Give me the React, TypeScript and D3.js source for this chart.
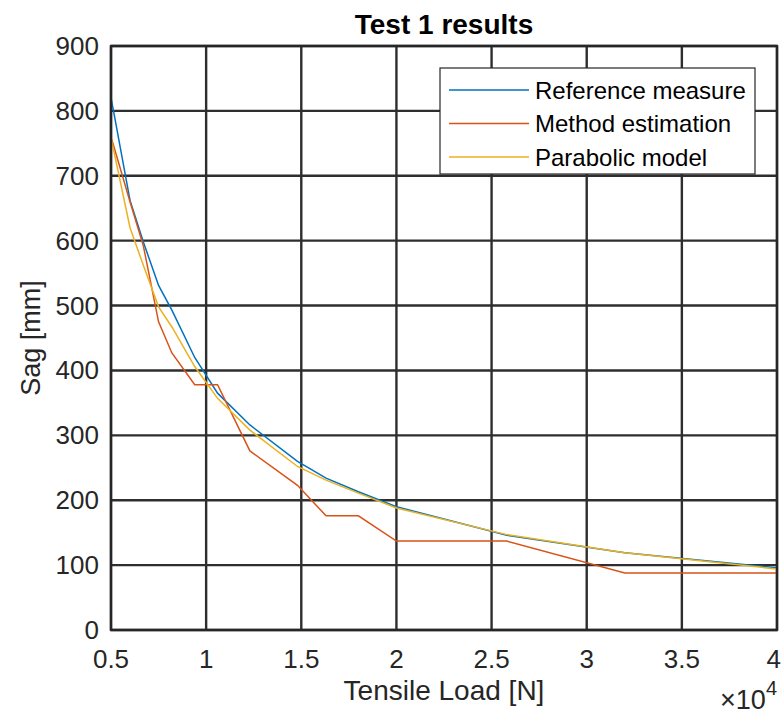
import React, { useEffect, useRef } from 'react';
import * as d3 from 'd3';

// tensile load in units of 1e4 N
const loads = [0.5, 0.51, 0.6, 0.67, 0.75, 0.82, 0.94, 1.06, 1.23, 1.48, 1.63, 1.8, 2.0, 2.58, 3.2, 4.0];
const referenceMeasure = [820, 805, 662, 598, 531, 493, 420, 365, 316, 260, 234, 213, 190, 146, 119, 96];
const methodEstimation = [758, 750, 660, 592, 475, 427, 378, 378, 276, 223, 176, 176, 137, 137, 88, 88];
const parabolicModel = [758, 745, 620, 562, 498, 467, 406, 357, 308, 252, 231, 211, 188, 147, 119, 94];

const xTicks = [0.5, 1, 1.5, 2, 2.5, 3, 3.5, 4];
const yTicks = [0, 100, 200, 300, 400, 500, 600, 700, 800, 900];

const seriesNames = ['Reference measure', 'Method estimation', 'Parabolic model'];
const seriesColors = ['#0072BD', '#D95319', '#EDB120'];

const W = 782, H = 715;
const margin = { top: 46, right: 5, bottom: 85, left: 111 };
const font = 'Liberation Sans, Arial, Helvetica, sans-serif';

export default function App() {
  const ref = useRef<SVGSVGElement>(null);

  useEffect(() => {
    const svg = d3.select(ref.current);
    svg.selectAll('*').remove();

    const x = d3.scaleLinear().domain([0.5, 4]).range([margin.left, W - margin.right]);
    const y = d3.scaleLinear().domain([0, 900]).range([H - margin.bottom, margin.top]);

    svg.append('rect').attr('width', W).attr('height', H).attr('fill', '#fff');

    // grid
    const grid = svg.append('g').attr('stroke', '#2e2e2e').attr('stroke-width', 2.4);
    xTicks.forEach(t => {
      grid.append('line').attr('x1', x(t)).attr('x2', x(t)).attr('y1', y(0)).attr('y2', y(900));
    });
    yTicks.forEach(t => {
      grid.append('line').attr('x1', x(0.5)).attr('x2', x(4)).attr('y1', y(t)).attr('y2', y(t));
    });

    // lines
    const allSeries = [referenceMeasure, methodEstimation, parabolicModel];
    const line = d3.line<number>()
      .x((_, i) => x(loads[i]))
      .y(d => y(d));
    allSeries.forEach((s, k) => {
      svg.append('path')
        .datum(s)
        .attr('d', line)
        .attr('fill', 'none')
        .attr('stroke', seriesColors[k])
        .attr('stroke-width', 1.5);
    });

    // axes box
    svg.append('rect')
      .attr('x', x(0.5)).attr('y', y(900))
      .attr('width', x(4) - x(0.5)).attr('height', y(0) - y(900))
      .attr('fill', 'none').attr('stroke', '#262626').attr('stroke-width', 2.4);

    // tick labels
    const tl = svg.append('g').attr('font-family', font).attr('font-size', 26).attr('fill', '#262626');
    xTicks.forEach((t, i) => {
      const last = i === xTicks.length - 1;
      tl.append('text')
        .attr('x', last ? W - 1 : x(t))
        .attr('y', y(0) + 38)
        .attr('text-anchor', last ? 'end' : 'middle')
        .text(String(t));
    });
    yTicks.forEach(t => {
      tl.append('text').attr('x', x(0.5) - 12).attr('y', y(t) + 9).attr('text-anchor', 'end').text(String(t));
    });

    // exponent
    const ex = svg.append('text').attr('font-family', font).attr('fill', '#262626')
      .attr('x', W - 5).attr('y', 709).attr('text-anchor', 'end');
    ex.append('tspan').attr('font-size', 27).text('×10');
    ex.append('tspan').attr('font-size', 20).attr('dy', -14).text('4');

    // axis labels
    svg.append('text').attr('font-family', font).attr('font-size', 28).attr('fill', '#262626')
      .attr('x', (x(0.5) + x(4)) / 2).attr('y', 700).attr('text-anchor', 'middle')
      .text('Tensile Load [N]');
    svg.append('text').attr('font-family', font).attr('font-size', 27).attr('fill', '#262626')
      .attr('transform', `translate(40, ${(y(0) + y(900)) / 2}) rotate(-90)`)
      .attr('text-anchor', 'middle')
      .text('Sag [mm]');

    // title
    svg.append('text').attr('font-family', font).attr('font-size', 28).attr('font-weight', 'bold')
      .attr('fill', '#000')
      .attr('x', (x(0.5) + x(4)) / 2).attr('y', 34).attr('text-anchor', 'middle')
      .text('Test 1 results');

    // legend
    const lg = svg.append('g');
    lg.append('rect').attr('x', 440).attr('y', 68).attr('width', 315).attr('height', 106)
      .attr('fill', '#fff').attr('stroke', '#262626').attr('stroke-width', 1.2);
    seriesNames.forEach((n, k) => {
      const cy = 90 + k * 33.5;
      lg.append('line').attr('x1', 449).attr('x2', 529).attr('y1', cy).attr('y2', cy)
        .attr('stroke', seriesColors[k]).attr('stroke-width', 1.5);
      lg.append('text').attr('x', 535).attr('y', cy + 8.5).attr('font-family', font)
        .attr('font-size', 24).attr('fill', '#000').text(n);
    });
  }, []);

  return <svg ref={ref} width={W} height={H} style={{ display: 'block', position: 'absolute', left: 0, top: 0 }} />;
}
